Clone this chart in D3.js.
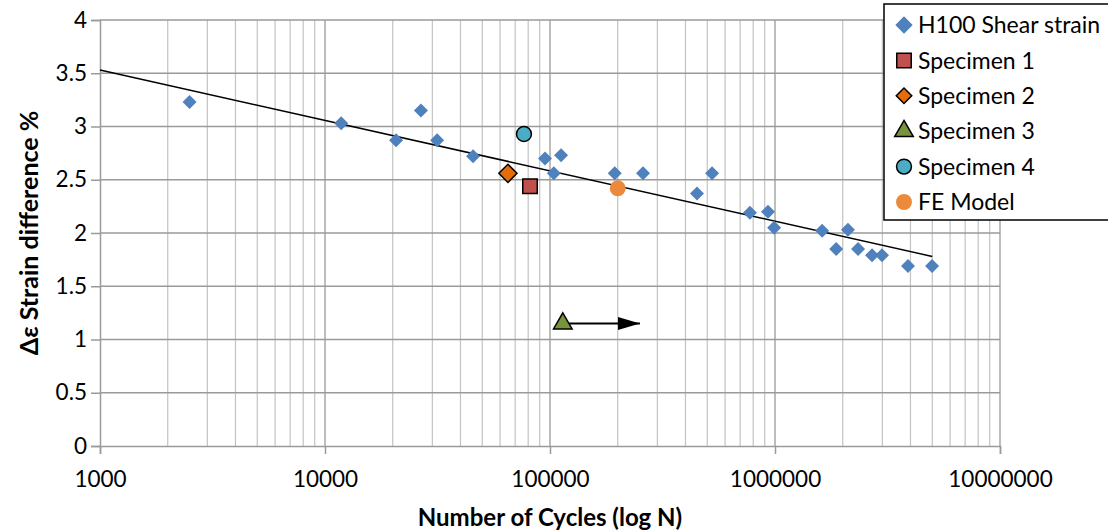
<!DOCTYPE html>
<html>
<head>
<meta charset="utf-8">
<script src="https://cdn.jsdelivr.net/npm/d3@7"></script>
<style>
  html, body { margin: 0; padding: 0; background: #fff; }
  svg { display: block; }
  text { font-family: Lato, "Open Sans", sans-serif; fill: #000; }
</style>
</head>
<body>
<svg id="chart" width="1108" height="531"></svg>
<script>
// ---- data ----
const h100Cycles = [2500, 11800, 20700, 26700, 31500, 45500, 95000, 104000, 112000, 194000, 259000, 450000, 525000, 774000, 931000, 991000, 1620000, 1870000, 2110000, 2340000, 2700000, 2990000, 3900000, 4990000];
const h100Strain = [3.23, 3.03, 2.87, 3.15, 2.87, 2.72, 2.70, 2.56, 2.73, 2.56, 2.56, 2.37, 2.56, 2.19, 2.20, 2.05, 2.02, 1.85, 2.03, 1.85, 1.79, 1.79, 1.69, 1.69];
const specimenNames = ["Specimen 1", "Specimen 2", "Specimen 3", "Specimen 4", "FE Model"];
const specimenCycles = [81500, 65000, 114000, 76600, 200000];
const specimenStrain = [2.44, 2.56, 1.15, 2.93, 2.42];
const arrowCycles = [114000, 251000];
const arrowStrain = [1.15, 1.15];
const trendCycles = [1000, 5000000];
const trendStrain = [3.53, 1.78];
const xTickValues = [1000, 10000, 100000, 1000000, 10000000];
const yTickValues = [0, 0.5, 1, 1.5, 2, 2.5, 3, 3.5, 4];
const legendLabels = ["H100 Shear strain", "Specimen 1", "Specimen 2", "Specimen 3", "Specimen 4", "FE Model"];

// ---- layout ----
const svg = d3.select("#chart");
const pLeft = 100, pRight = 1000, pTop = 20, pBottom = 446;
const x = d3.scaleLog().domain([1000, 10000000]).range([pLeft, pRight]);
const y = d3.scaleLinear().domain([0, 4]).range([pBottom, pTop]);

const gridColor = "#c3c3c3";
const axisColor = "#9a9a9a";

// minor vertical grid
const minor = [];
for (let d = 1000; d < 10000000; d *= 10) for (let k = 2; k <= 9; k++) minor.push(d * k);
svg.append("g").selectAll("line").data(minor).join("line")
  .attr("x1", d => x(d)).attr("x2", d => x(d)).attr("y1", pTop).attr("y2", pBottom)
  .attr("stroke", gridColor).attr("stroke-width", 1.2);
// major vertical grid
svg.append("g").selectAll("line").data(xTickValues.slice(1)).join("line")
  .attr("x1", d => x(d)).attr("x2", d => x(d)).attr("y1", pTop).attr("y2", pBottom)
  .attr("stroke", axisColor).attr("stroke-width", 1.3);
// horizontal grid
svg.append("g").selectAll("line").data(yTickValues.slice(1)).join("line")
  .attr("x1", pLeft).attr("x2", pRight).attr("y1", d => y(d)).attr("y2", d => y(d))
  .attr("stroke", axisColor).attr("stroke-width", 1.3);

// axes
const yAxis = d3.axisLeft(y).tickValues(yTickValues).tickFormat(d3.format("")).tickSize(9).tickPadding(4);
const gy = svg.append("g").attr("transform", `translate(${pLeft},0)`).call(yAxis);
const xAxis = d3.axisBottom(x).tickValues(xTickValues).tickFormat(d3.format("d")).tickSize(8).tickPadding(17);
const gx = svg.append("g").attr("transform", `translate(0,${pBottom})`).call(xAxis);
[gx, gy].forEach(g => {
  g.select(".domain").attr("stroke", axisColor).attr("stroke-width", 1.5);
  g.selectAll(".tick line").attr("stroke", axisColor).attr("stroke-width", 1.5);
  g.selectAll(".tick text").attr("font-family", "Lato, sans-serif").attr("font-size", 22.5).attr("fill", "#000");
});
gx.selectAll(".tick text").attr("dy", "0.71em");

// axis titles
svg.append("text").attr("x", (pLeft + pRight) / 2).attr("y", 526)
  .attr("text-anchor", "middle").attr("font-size", 24).attr("font-weight", "bold")
  .text("Number of Cycles (log N)");
svg.append("text").attr("transform", `translate(38,${(pTop + pBottom) / 2}) rotate(-90)`)
  .attr("text-anchor", "middle").attr("font-size", 25).attr("font-weight", "bold")
  .text("Δε Strain difference %");

// trendline
svg.append("line")
  .attr("x1", x(trendCycles[0])).attr("y1", y(trendStrain[0]))
  .attr("x2", x(trendCycles[1])).attr("y2", y(trendStrain[1]))
  .attr("stroke", "#000").attr("stroke-width", 1.5);

// marker styles
const styles = [
  { shape: d3.symbolDiamond, size: 100, fill: "#4f81bd", stroke: "none" },
  { shape: d3.symbolSquare, size: 210, fill: "#c0504d", stroke: "#000" },
  { shape: d3.symbolDiamond, size: 165, fill: "#e46c0a", stroke: "#000" },
  { shape: d3.symbolTriangle, size: 150, fill: "#77933c", stroke: "#000" },
  { shape: d3.symbolCircle, size: 175, fill: "#4bacc6", stroke: "#000" },
  { shape: d3.symbolCircle, size: 200, fill: "#ec8a3c", stroke: "none" }
];
function sym(st) { return d3.symbol().type(st.shape).size(st.size)(); }

// arrow
svg.append("defs").append("marker").attr("id", "ah").attr("viewBox", "0 0 22 13")
  .attr("refX", 22).attr("refY", 6.5).attr("markerWidth", 22).attr("markerHeight", 13)
  .attr("markerUnits", "userSpaceOnUse").attr("orient", "auto")
  .append("path").attr("d", "M0,0 L22,6.5 L0,13 Z").attr("fill", "#000");
svg.append("line")
  .attr("x1", x(arrowCycles[0])).attr("y1", y(arrowStrain[0]))
  .attr("x2", x(arrowCycles[1])).attr("y2", y(arrowStrain[1]))
  .attr("stroke", "#000").attr("stroke-width", 2).attr("marker-end", "url(#ah)");

// H100 points
svg.append("g").selectAll("path").data(h100Cycles.map((c, i) => [c, h100Strain[i]])).join("path")
  .attr("d", d3.symbol().type(d3.symbolSquare).size(98)())
  .attr("transform", d => `translate(${x(d[0])},${y(d[1])}) rotate(45)`)
  .attr("fill", styles[0].fill);

// specimens
specimenCycles.forEach((c, i) => {
  const st = styles[i + 1];
  let d = sym(st);
  if (st.shape === d3.symbolDiamond) d = d3.symbol().type(d3.symbolSquare).size(st.size)();
  const rot = st.shape === d3.symbolDiamond ? " rotate(45)" : "";
  svg.append("path").attr("d", d)
    .attr("transform", `translate(${x(c)},${y(specimenStrain[i])})${rot}`)
    .attr("fill", st.fill).attr("stroke", st.stroke).attr("stroke-width", 1.5);
});

// legend
const lg = svg.append("g");
lg.append("rect").attr("x", 884).attr("y", 4).attr("width", 240).attr("height", 216)
  .attr("fill", "#fff").attr("stroke", "#000").attr("stroke-width", 1.5);
legendLabels.forEach((lab, i) => {
  const cy = 25 + i * 35.4;
  const st = styles[i];
  let d = sym(st);
  let rot = "";
  if (st.shape === d3.symbolDiamond) { d = d3.symbol().type(d3.symbolSquare).size(i === 0 ? 150 : 120)(); rot = " rotate(45)"; }
  lg.append("path").attr("d", d).attr("transform", `translate(904,${cy})${rot}`)
    .attr("fill", st.fill).attr("stroke", st.stroke).attr("stroke-width", 1.5);
  lg.append("text").attr("x", 918).attr("y", cy).attr("dy", "0.36em")
    .attr("font-size", 23).text(lab);
});
</script>
</body>
</html>
